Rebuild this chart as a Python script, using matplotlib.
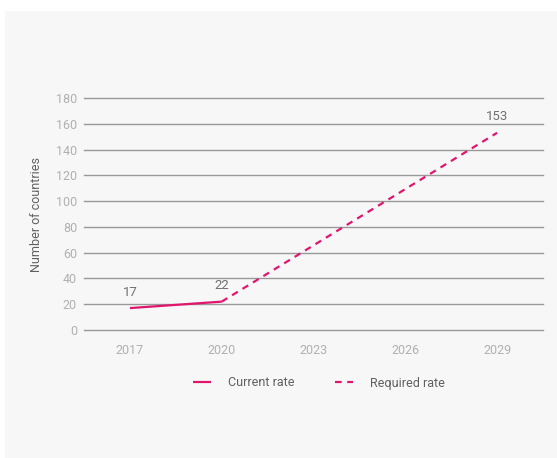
import matplotlib.pyplot as plt
from matplotlib.patches import Rectangle

plt.rcParams['font.family'] = ['Roboto', 'DejaVu Sans']

years = ['2017', '2020', '2023', '2026', '2029']
current_x = [0, 1]
current_vals = [17, 22]
required_x = [1, 4]
required_vals = [22, 153]
yticks = [0, 20, 40, 60, 80, 100, 120, 140, 160, 180]

pink = '#e0156e'

fig = plt.figure(figsize=(5.57, 4.58), dpi=100)
fig.patch.set_facecolor('white')
panel = Rectangle((5 / 557, 0), 1, 1 - 11 / 458, transform=fig.transFigure,
                  facecolor='#f7f7f7', edgecolor='none', zorder=-10)
fig.add_artist(panel)

ax = fig.add_axes([84 / 557, 1 - 330 / 458, (543 - 84) / 557, (330 - 98) / 458])
ax.set_facecolor('none')

ax.plot(current_x, current_vals, color=pink, lw=1.6, solid_capstyle='butt', label='Current rate', zorder=3)
ax.plot(required_x, required_vals, color=pink, lw=1.6, dashes=(3, 2.5), label='Required rate', zorder=3)

# data labels
for x, v in [(0, 17), (1, 22), (4, 153)]:
    ax.annotate(str(v), (x, v), xytext=(0, 11.5), textcoords='offset points',
                ha='center', va='center', fontsize=9.5, color='#707070')

ax.set_xlim(-0.5, 4.5)
ax.set_ylim(0, 180)
ax.set_xticks(range(len(years)))
ax.set_xticklabels(years)
ax.set_yticks(yticks)
ax.tick_params(axis='both', length=0, labelsize=9, labelcolor='#b0b0b0')
ax.tick_params(axis='y', pad=5)
ax.tick_params(axis='x', pad=10)
ax.grid(axis='y', color='#999999', lw=1)
for gl in ax.get_ygridlines():
    gl.set_clip_on(False)
ax.set_axisbelow(True)
for s in ax.spines.values():
    s.set_visible(False)

ax.set_ylabel('Number of countries', fontsize=9, color='#606060')
ax.yaxis.set_label_coords(-(84 - 43) / (543 - 84), 0.5)

fig.legend(loc='center', bbox_to_anchor=(319 / 557, 1 - 383 / 458), ncol=2, frameon=False,
           fontsize=9, labelcolor='#606060', handlelength=1.45, handletextpad=1.4,
           columnspacing=3.2)

plt.savefig('out.png', dpi=100)
